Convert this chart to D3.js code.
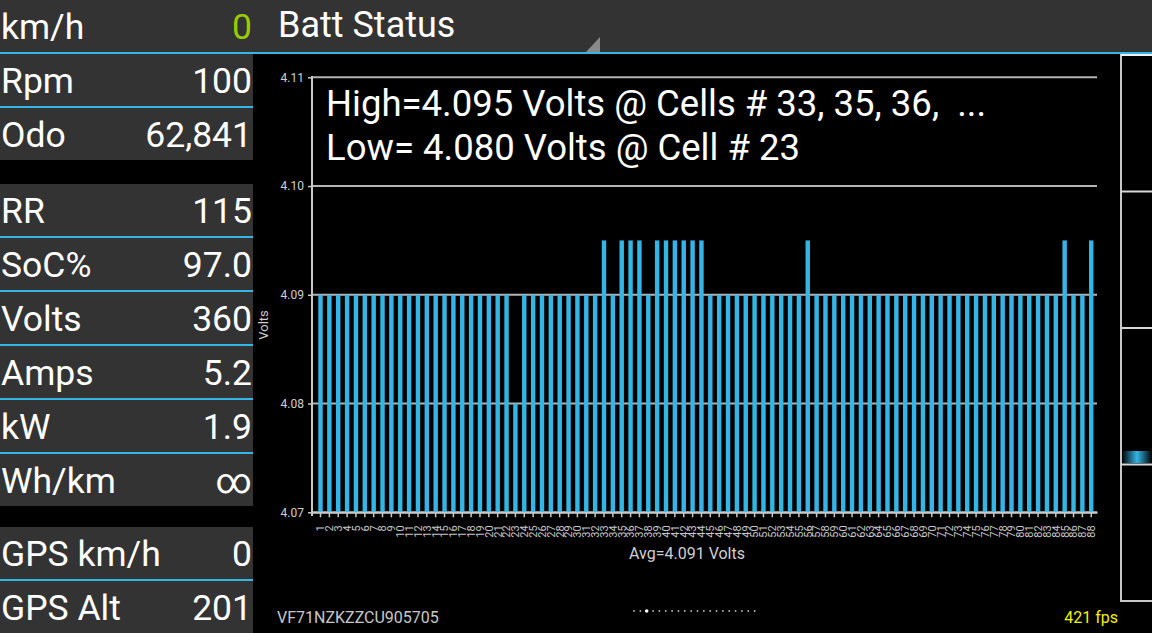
<!DOCTYPE html>
<html><head><meta charset="utf-8">
<script src="https://cdn.jsdelivr.net/npm/d3@7"></script>
<style>
html,body{margin:0;padding:0;background:#000;overflow:hidden}
svg{display:block;font-family:Roboto,"Noto Sans",sans-serif}
</style>
</head><body>
<svg id="c" width="1152" height="633"></svg>
<script>
// ---------- data ----------
const cellLabels = ["1","2","3","4","5","6","7","8","9","10","11","12","13","14","15","16","17","18","19","20",
  "21","22","23","24","25","26","27","28","29","30","31","32","33","34","35","36","37","38","39","40",
  "41","42","43","44","45","46","47","48","49","50","51","52","53","54","55","56","57","58","59","60",
  "61","62","63","64","65","66","67","68","69","70","71","72","73","74","75","76","77","78","79","80",
  "81","82","83","84","85","86","87","88"];
const cellVolts = [
  4.090,4.090,4.090,4.090,4.090,4.090,4.090,4.090,4.090,4.090,
  4.090,4.090,4.090,4.090,4.090,4.090,4.090,4.090,4.090,4.090,
  4.090,4.090,4.080,4.090,4.090,4.090,4.090,4.090,4.090,4.090,
  4.090,4.090,4.095,4.090,4.095,4.095,4.095,4.090,4.095,4.095,
  4.095,4.095,4.095,4.095,4.090,4.090,4.090,4.090,4.090,4.090,
  4.090,4.090,4.090,4.090,4.090,4.095,4.090,4.090,4.090,4.090,
  4.090,4.090,4.090,4.090,4.090,4.090,4.090,4.090,4.090,4.090,
  4.090,4.090,4.090,4.090,4.090,4.090,4.090,4.090,4.090,4.090,
  4.090,4.090,4.090,4.090,4.095,4.090,4.090,4.095];
const yTicks = [4.07, 4.08, 4.09, 4.10, 4.11];
const yDomain = [4.07, 4.11];
const chartTitle = "Batt Status";
const highLine = "High=4.095 Volts @ Cells # 33, 35, 36,  ...";
const lowLine = "Low= 4.080 Volts @ Cell # 23";
const avgLabel = "Avg=4.091 Volts";
const yAxisLabel = "Volts";
const vinText = "VF71NZKZZCU905705";
const fpsText = "421 fps";
const panelLabels = ["km/h","Rpm","Odo","RR","SoC%","Volts","Amps","kW","Wh/km","GPS km/h","GPS Alt"];
const panelValues = ["0","100","62,841","115","97.0","360","5.2","1.9","\u221E","0","201"];

// ---------- layout ----------
const BLUE = "#33b5e5", PANEL = "#333333";
const rowTops = [0, 54, 108, 184, 238, 292, 346, 400, 454, 527, 581];
const rowLine = [false, true, false, true, true, true, true, true, false, true, false];

const svg = d3.select("#c");
svg.append("rect").attr("width",1152).attr("height",633).attr("fill","#000");

// top bar
svg.append("rect").attr("x",0).attr("y",0).attr("width",1152).attr("height",52).attr("fill",PANEL);
svg.append("rect").attr("x",0).attr("y",52).attr("width",1152).attr("height",2).attr("fill",BLUE);
svg.append("path").attr("d","M600,37L600,52L586,52Z").attr("fill","#8a8a8a");
svg.append("text").attr("x",278).attr("y",37).attr("fill","#fff")
  .style("font-size","36px").text(chartTitle);

// left panel
const rows = svg.append("g");
panelLabels.forEach((lab,i)=>{
  const t = rowTops[i];
  if(i>0) rows.append("rect").attr("x",0).attr("y",t).attr("width",253).attr("height",52).attr("fill",PANEL);
  if(rowLine[i]) rows.append("rect").attr("x",0).attr("y",t+52).attr("width",253).attr("height",2).attr("fill",BLUE);
  rows.append("text").attr("x",1).attr("y",t+39).attr("fill","#fff").style("font-size","35.5px").text(lab);
  rows.append("text").attr("x",252).attr("y",t+39).attr("text-anchor","end")
    .attr("fill", i===0 ? "#99cc00" : "#fff").style("font-size","35.5px").text(panelValues[i]);
});

// chart
const x = d3.scaleBand().domain(cellLabels).range([312,1097]).paddingInner(0.5).paddingOuter(0.555).align(0.64);
const y = d3.scaleLinear().domain(yDomain).range([512.3,77.3]);

// grid
svg.append("g").selectAll("line").data(yTicks).join("line")
  .attr("x1",312).attr("x2",1097).attr("y1",d=>y(d)).attr("y2",d=>y(d))
  .attr("stroke","#b4b4b4").attr("stroke-width",2);

// bars
svg.append("g").selectAll("rect").data(cellVolts).join("rect")
  .attr("x",(d,i)=>x(cellLabels[i])).attr("width",x.bandwidth())
  .attr("y",d=>y(d)).attr("height",d=>y(yDomain[0])-y(d))
  .attr("fill",BLUE);

// y axis
const ya = svg.append("g").attr("transform","translate(312,0)")
  .call(d3.axisLeft(y).tickValues(yTicks).tickFormat(d3.format(".2f")).tickSize(4).tickSizeOuter(0));
ya.select(".domain").attr("stroke","#c8c8c8").attr("stroke-width",2).attr("d","M0,76V516");
ya.selectAll(".tick line").attr("stroke","#c8c8c8").attr("stroke-width",1.5);
ya.selectAll(".tick text").attr("fill","#d0d0d0").attr("x",-8).style("font-size","12px").style("font-family","Roboto");

// x axis
const xa = svg.append("g").attr("transform","translate(0,512.3)")
  .call(d3.axisBottom(x).tickSize(5).tickSizeOuter(0));
xa.select(".domain").attr("stroke","#c8c8c8").attr("stroke-width",2);
xa.selectAll(".tick line").attr("stroke","#c8c8c8").attr("stroke-width",1.5);
xa.selectAll(".tick text").attr("fill","#c8c8c8").style("font-size","11px").style("font-family","Roboto")
  .attr("transform","rotate(-90)").attr("text-anchor","end").attr("x",-13).attr("y",0).attr("dy","0.35em");

// labels
svg.append("text").attr("x",687).attr("y",559).attr("text-anchor","middle").attr("fill","#d0d0d0")
  .style("font-size","16px").text(avgLabel);
svg.append("text").attr("transform","translate(268,325) rotate(-90)").attr("text-anchor","middle")
  .attr("fill","#d0d0d0").style("font-size","13px").text(yAxisLabel);
svg.append("text").attr("x",326).attr("y",116).attr("fill","#fff").style("font-size","36.5px")
  .style("white-space","pre").attr("xml:space","preserve").text(highLine);
svg.append("text").attr("x",326).attr("y",160).attr("fill","#fff").style("font-size","36.5px").text(lowLine);

// right side panel
const rp = svg.append("g");
const defs = svg.append("defs");
const gr = defs.append("linearGradient").attr("id","glow").attr("x1","0").attr("x2","1");
gr.append("stop").attr("offset","0").attr("stop-color",BLUE).attr("stop-opacity",0);
gr.append("stop").attr("offset","0.5").attr("stop-color",BLUE).attr("stop-opacity",1);
gr.append("stop").attr("offset","1").attr("stop-color",BLUE).attr("stop-opacity",0);
rp.append("rect").attr("x",1122).attr("y",451).attr("width",30).attr("height",12).attr("fill","url(#glow)");
rp.append("rect").attr("x",1121).attr("y",55).attr("width",40).attr("height",546)
  .attr("fill","none").attr("stroke","#c8c8c8").attr("stroke-width",2);
[1,2,3].forEach(k=>{
  rp.append("line").attr("x1",1121).attr("x2",1152).attr("y1",55+136.5*k).attr("y2",55+136.5*k)
    .attr("stroke","#d8d8d8").attr("stroke-width",2);
});
rp.append("line").attr("x1",1121).attr("x2",1152).attr("y1",55).attr("y2",55).attr("stroke","#f0f0f0").attr("stroke-width",2);

// footer
svg.append("text").attr("x",277).attr("y",623).attr("fill","#c8c8c8").style("font-size","16px").text(vinText);
svg.append("text").attr("x",1118).attr("y",623).attr("text-anchor","end").attr("fill","#f2f200").style("font-size","16px").text(fpsText);
const dots = svg.append("g");
for(let i=0;i<20;i++){
  dots.append("circle").attr("cx",634+i*6.35).attr("cy",611).attr("r", i===2 ? 1.8 : 0.9).attr("fill", i===2 ? "#fff" : "#bbb");
}
</script>
</body></html>
